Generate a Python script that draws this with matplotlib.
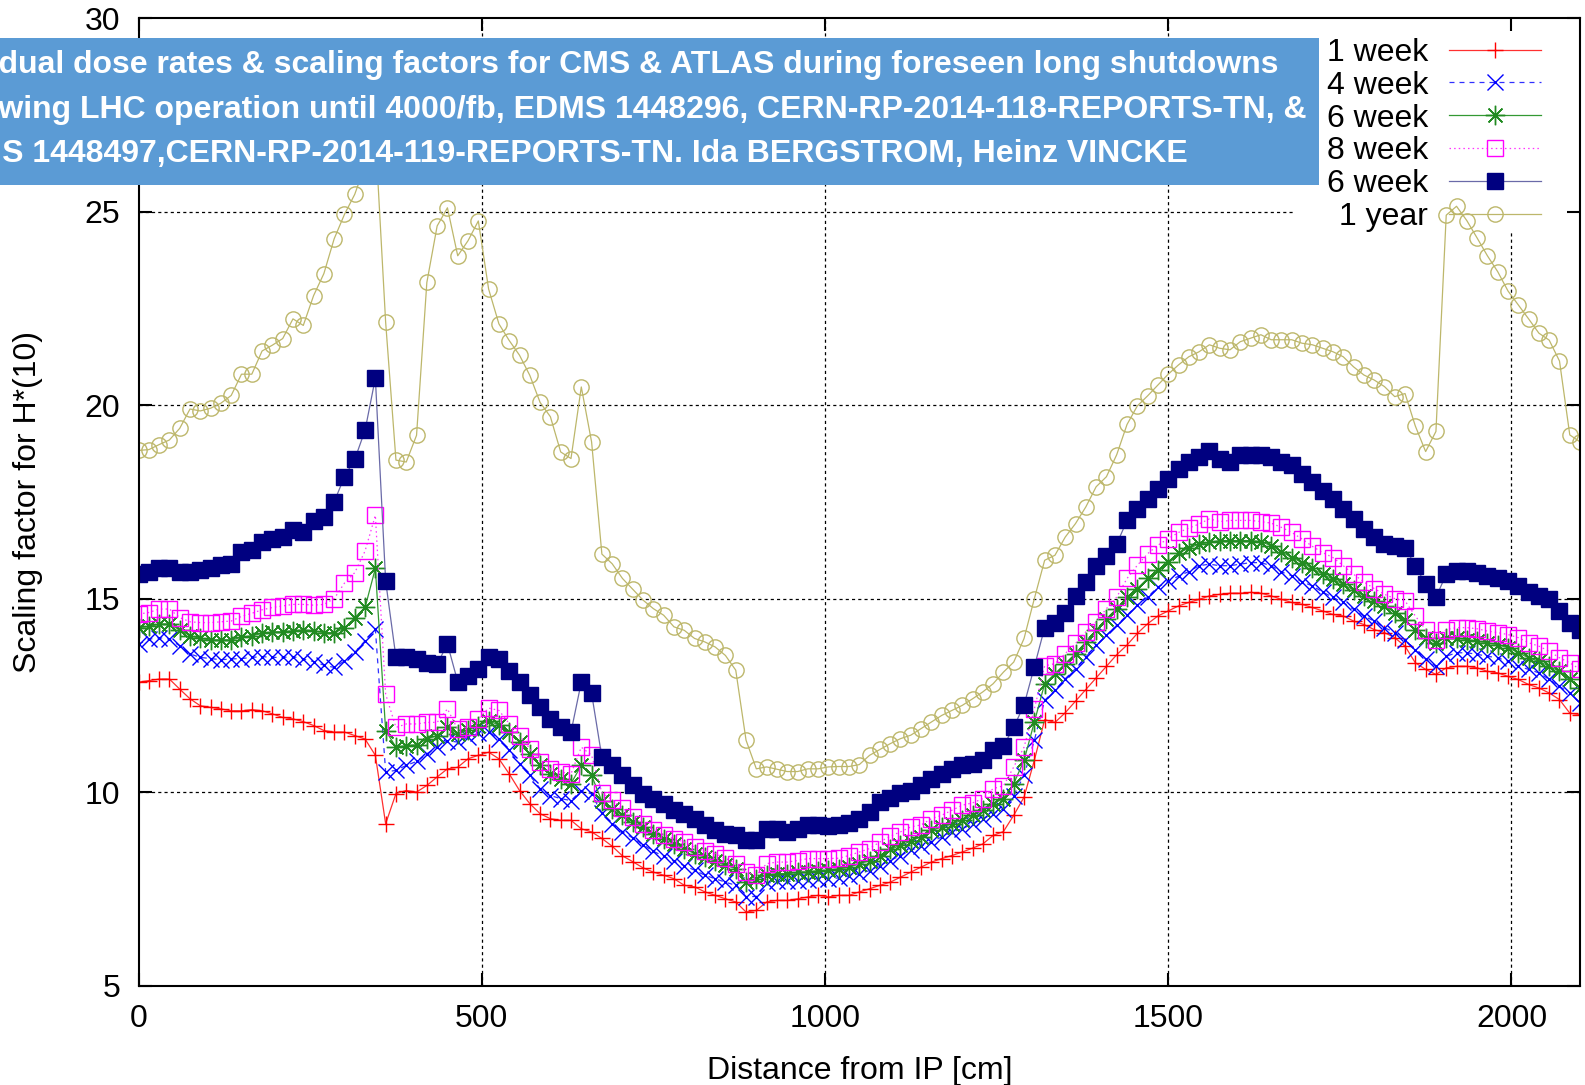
# Scaling factor for H*(10) vs distance from IP, several cooling times

import numpy as np
import matplotlib.pyplot as plt
from matplotlib.patches import Rectangle

plt.rcParams['font.family'] = ['Liberation Sans', 'DejaVu Sans']

#### Data ####
distance = np.arange(0, 2101, 15)   # cm from IP, one point every 15 cm

week1 = [12.84, 12.88, 12.92, 12.92, 12.66, 12.41, 12.23, 12.19, 12.15, 12.10,
         12.10, 12.13, 12.10, 12.02, 11.93, 11.89, 11.82, 11.72, 11.59, 11.55,
         11.55, 11.46, 11.37, 10.95, 9.18, 9.96, 10.04, 10.00, 10.17, 10.39,
         10.60, 10.64, 10.86, 10.95, 11.03, 10.86, 10.47, 10.04, 9.70, 9.44,
         9.31, 9.27, 9.27, 9.05, 8.97, 8.80, 8.60, 8.35, 8.20, 8.04,
         7.93, 7.85, 7.76, 7.59, 7.55, 7.42, 7.33, 7.24, 7.16, 6.90,
         6.94, 7.16, 7.20, 7.20, 7.24, 7.29, 7.33, 7.29, 7.33, 7.33,
         7.42, 7.50, 7.59, 7.67, 7.80, 7.93, 8.06, 8.19, 8.28, 8.36,
         8.45, 8.55, 8.66, 8.88, 8.98, 9.40, 9.87, 10.82, 11.87, 11.80,
         12.05, 12.35, 12.65, 12.95, 13.25, 13.55, 13.80, 14.10, 14.35, 14.55,
         14.68, 14.81, 14.90, 14.98, 15.07, 15.11, 15.14, 15.14, 15.16, 15.14,
         15.07, 14.98, 14.90, 14.85, 14.77, 14.68, 14.59, 14.55, 14.42, 14.33,
         14.20, 14.12, 13.99, 13.77, 13.34, 13.17, 13.04, 13.21, 13.25, 13.25,
         13.21, 13.12, 13.08, 12.99, 12.91, 12.78, 12.69, 12.56, 12.39, 12.04,
         12.00]

week4 = [13.82, 13.95, 13.99, 13.95, 13.78, 13.57, 13.48, 13.45, 13.42, 13.44,
         13.45, 13.48, 13.50, 13.48, 13.48, 13.50, 13.44, 13.37, 13.28, 13.22,
         13.39, 13.61, 13.91, 14.21, 10.52, 10.56, 10.69, 10.79, 10.99, 11.16,
         11.33, 11.29, 11.42, 11.52, 11.55, 11.38, 11.08, 10.73, 10.43, 10.09,
         9.91, 9.83, 9.78, 10.04, 9.95, 9.45, 9.18, 8.98, 8.81, 8.64,
         8.47, 8.34, 8.21, 8.10, 7.98, 7.85, 7.76, 7.67, 7.59, 7.30,
         7.30, 7.64, 7.69, 7.69, 7.70, 7.73, 7.76, 7.76, 7.78, 7.83,
         7.89, 7.97, 8.10, 8.23, 8.36, 8.49, 8.60, 8.71, 8.84, 8.97,
         9.05, 9.18, 9.31, 9.44, 9.57, 9.91, 10.43, 11.34, 12.37, 12.63,
         12.93, 13.19, 13.49, 13.79, 14.05, 14.31, 14.57, 14.83, 15.04, 15.30,
         15.45, 15.58, 15.70, 15.85, 15.89, 15.85, 15.85, 15.89, 15.93, 15.93,
         15.85, 15.69, 15.59, 15.43, 15.33, 15.17, 15.03, 14.90, 14.72, 14.55,
         14.42, 14.25, 14.12, 13.94, 13.68, 13.43, 13.25, 13.51, 13.60, 13.60,
         13.56, 13.51, 13.47, 13.38, 13.25, 13.17, 13.08, 12.91, 12.73, 12.56,
         12.30]

week6 = [14.25, 14.28, 14.34, 14.34, 14.19, 14.04, 13.97, 13.93, 13.93, 13.93,
         14.00, 14.04, 14.10, 14.14, 14.14, 14.17, 14.19, 14.17, 14.12, 14.12,
         14.23, 14.51, 14.77, 15.78, 11.59, 11.16, 11.20, 11.22, 11.37, 11.46,
         11.68, 11.50, 11.60, 11.72, 11.83, 11.74, 11.55, 11.29, 10.99, 10.69,
         10.47, 10.34, 10.22, 10.69, 10.43, 9.76, 9.55, 9.40, 9.22, 9.10,
         8.92, 8.79, 8.66, 8.54, 8.41, 8.32, 8.21, 8.11, 8.02, 7.67,
         7.76, 7.85, 7.89, 7.89, 7.93, 7.93, 7.97, 7.98, 8.02, 8.06,
         8.15, 8.23, 8.36, 8.52, 8.62, 8.73, 8.85, 9.01, 9.10, 9.18,
         9.27, 9.40, 9.53, 9.70, 9.83, 10.22, 10.82, 11.81, 12.80, 13.06,
         13.32, 13.58, 13.88, 14.18, 14.48, 14.74, 15.04, 15.26, 15.52, 15.73,
         15.95, 16.18, 16.30, 16.41, 16.45, 16.50, 16.50, 16.50, 16.50, 16.47,
         16.37, 16.21, 16.06, 15.93, 15.78, 15.63, 15.50, 15.37, 15.22, 15.07,
         14.94, 14.81, 14.64, 14.45, 14.20, 13.99, 13.86, 13.99, 13.99, 13.94,
         13.90, 13.86, 13.81, 13.73, 13.60, 13.47, 13.38, 13.25, 13.12, 12.91,
         12.69]

week8 = [14.60, 14.64, 14.73, 14.73, 14.51, 14.40, 14.38, 14.38, 14.40, 14.42,
         14.54, 14.62, 14.71, 14.77, 14.81, 14.85, 14.85, 14.83, 14.85, 15.00,
         15.40, 15.67, 16.23, 17.15, 12.53, 11.67, 11.76, 11.76, 11.80, 11.80,
         12.15, 11.62, 11.68, 11.89, 12.17, 12.11, 11.77, 11.46, 11.12, 10.78,
         10.60, 10.52, 10.47, 11.16, 10.95, 9.98, 9.80, 9.58, 9.35, 9.18,
         9.03, 8.90, 8.79, 8.71, 8.58, 8.47, 8.41, 8.29, 8.15, 7.93,
         7.85, 8.15, 8.19, 8.19, 8.23, 8.28, 8.28, 8.28, 8.29, 8.36,
         8.45, 8.54, 8.71, 8.86, 8.97, 9.10, 9.15, 9.31, 9.40, 9.53,
         9.66, 9.72, 9.83, 10.09, 10.16, 10.65, 11.16, 12.15, 13.26, 13.32,
         13.58, 13.84, 14.14, 14.40, 14.74, 15.04, 15.52, 15.86, 16.16, 16.38,
         16.55, 16.71, 16.82, 16.93, 17.06, 16.99, 17.02, 17.02, 17.02, 16.99,
         16.95, 16.84, 16.71, 16.54, 16.35, 16.19, 16.06, 15.85, 15.63, 15.43,
         15.26, 15.11, 15.00, 14.94, 14.55, 14.20, 13.94, 14.20, 14.25, 14.25,
         14.22, 14.16, 14.12, 14.07, 13.99, 13.86, 13.77, 13.64, 13.47, 13.34,
         13.17]

week6_b = [15.64, 15.68, 15.78, 15.80, 15.68, 15.68, 15.75, 15.80, 15.86, 15.90,
           16.20, 16.25, 16.45, 16.55, 16.60, 16.78, 16.72, 17.00, 17.10, 17.50,
           18.15, 18.60, 19.35, 20.70, 15.45, 13.48, 13.48, 13.44, 13.33, 13.30,
           13.83, 12.85, 13.00, 13.18, 13.50, 13.45, 13.14, 12.84, 12.50, 12.20,
           11.90, 11.68, 11.55, 12.84, 12.55, 10.90, 10.69, 10.43, 10.17, 9.96,
           9.83, 9.70, 9.53, 9.44, 9.31, 9.14, 9.01, 8.92, 8.88, 8.75,
           8.75, 9.05, 9.05, 8.97, 9.05, 9.14, 9.14, 9.12, 9.14, 9.21,
           9.31, 9.48, 9.74, 9.84, 9.98, 10.04, 10.17, 10.34, 10.47, 10.59,
           10.69, 10.73, 10.84, 11.08, 11.19, 11.68, 12.25, 13.24, 14.25, 14.38,
           14.64, 15.07, 15.42, 15.85, 16.11, 16.41, 17.02, 17.32, 17.58, 17.84,
           18.10, 18.36, 18.53, 18.66, 18.81, 18.62, 18.53, 18.70, 18.72, 18.70,
           18.66, 18.53, 18.44, 18.23, 18.01, 17.79, 17.58, 17.32, 17.06, 16.80,
           16.58, 16.41, 16.37, 16.32, 15.85, 15.37, 15.03, 15.63, 15.72, 15.72,
           15.67, 15.59, 15.54, 15.46, 15.33, 15.16, 15.07, 14.98, 14.68, 14.38,
           14.20]

year1 = [18.83, 18.85, 18.98, 19.10, 19.40, 19.90, 19.85, 19.92, 20.05, 20.25,
         20.80, 20.80, 21.40, 21.55, 21.72, 22.23, 22.06, 22.83, 23.40, 24.30,
         24.93, 25.45, 26.20, 27.00, 22.14, 18.58, 18.53, 19.22, 23.17, 24.63,
         25.10, 23.86, 24.25, 24.76, 23.00, 22.10, 21.67, 21.29, 20.77, 20.07,
         19.70, 18.79, 18.62, 20.47, 19.05, 16.15, 15.90, 15.52, 15.24, 14.96,
         14.74, 14.57, 14.27, 14.18, 13.97, 13.88, 13.75, 13.53, 13.15, 11.34,
         10.60, 10.65, 10.59, 10.53, 10.53, 10.60, 10.60, 10.65, 10.66, 10.66,
         10.71, 10.95, 11.10, 11.25, 11.38, 11.47, 11.64, 11.81, 11.98, 12.11,
         12.24, 12.41, 12.59, 12.80, 13.10, 13.36, 13.97, 15.00, 15.99, 16.12,
         16.59, 16.94, 17.37, 17.89, 18.15, 18.72, 19.50, 19.98, 20.24, 20.52,
         20.80, 21.04, 21.25, 21.38, 21.56, 21.47, 21.43, 21.64, 21.73, 21.82,
         21.69, 21.69, 21.69, 21.60, 21.56, 21.47, 21.38, 21.25, 20.99, 20.78,
         20.65, 20.48, 20.22, 20.30, 19.46, 18.80, 19.32, 24.91, 25.14, 24.77,
         24.32, 23.86, 23.45, 22.95, 22.59, 22.23, 21.86, 21.68, 21.14, 19.23,
         19.05]

labels = ['1 week', '4 week', '6 week', '8 week', '6 week', '1 year']
xticks = [0, 500, 1000, 1500, 2000]
yticks = [5, 10, 15, 20, 25, 30]

title_lines = [
    'Residual dose rates & scaling factors for CMS & ATLAS during foreseen long shutdowns',
    'following LHC operation until 4000/fb, EDMS 1448296, CERN-RP-2014-118-REPORTS-TN, &',
    'EDMS 1448497,CERN-RP-2014-119-REPORTS-TN. Ida BERGSTROM, Heinz VINCKE',
]

#### Styles ####
series = [week1, week4, week6, week8, week6_b, year1]
colors = ['#ff0000', '#0000ff', '#228b22', '#ff00ff', '#000080', '#bdb76b']
line_colors = ['#ff3030', '#3030ff', '#339933', '#ff30ff', '#6a6aa8', '#bdb76b']
lstyles = ['-', (0, (4, 4)), '-', (0, (1.2, 2.5)), '-', '-']
markers = ['+', 'x', (8, 2, 0), 's', 's', 'o']
msizes = [11, 11, 14, 11, 11.5, 11]
filled = [False, False, False, False, True, False]

#### Plot ####
fig = plt.figure(figsize=(15.85, 10.85), dpi=100)
ax = fig.add_axes([0.0874, 0.0917, 0.9095, 0.8915])

for y, lab, c, lc, ls, m, ms, f in zip(series, labels, colors, line_colors,
                                        lstyles, markers, msizes, filled):
    ax.plot(distance, y, color=lc, linestyle=ls, linewidth=0.9,
            marker=m, markersize=ms, markeredgewidth=1.0,
            markeredgecolor=c, markerfacecolor=(c if f else 'none'),
            label=lab)

ax.set_xlim(0, 2100)
ax.set_ylim(5, 30)
ax.set_xticks(xticks)
ax.set_yticks(yticks)
ax.tick_params(direction='in', length=9.5, width=1.5, top=True, right=True,
               labelsize=23, pad=13)
for sp in ax.spines.values():
    sp.set_linewidth(1.5)

# grid by hand, gnuplot leaves it out behind the key
grid_kw = dict(color='black', linewidth=0.9, linestyle=(0, (2.5, 2.5)), zorder=0.8)
for v in yticks[1:-1]:
    xmax = 0.8016 if v == 25 else 1.0
    ax.axhline(v, xmin=0, xmax=xmax, **grid_kw)
for v in xticks[1:]:
    ymax = 0.779 if v == 2000 else 1.0
    ax.axvline(v, ymin=0, ymax=ymax, **grid_kw)

ax.set_xlabel('Distance from IP [cm]', fontsize=23)
ax.set_ylabel('Scaling factor for H*(10)', fontsize=23)
ax.xaxis.set_label_coords(0.5, -0.0725)
ax.yaxis.set_label_coords(-0.066, 0.5)

leg = ax.legend(loc='upper right', bbox_to_anchor=(0.982, 0.993), markerfirst=False,
                frameon=False, fontsize=23, handlelength=2.9, handletextpad=0.65,
                labelspacing=0.09, borderpad=0.4, borderaxespad=0)

#### Reference box on top ####
box = Rectangle((-0.05, 0.8295), 0.8822, 0.1351, transform=fig.transFigure,
                facecolor='#5b9bd5', edgecolor='none', zorder=10)
fig.add_artist(box)
for line, yb in zip(title_lines, [0.9325, 0.8916, 0.8510]):
    fig.text(-0.0437, yb, line, color='white', fontsize=23.0, fontweight='bold',
             va='baseline', ha='left', zorder=11)

plt.savefig('out.png', dpi=100)
